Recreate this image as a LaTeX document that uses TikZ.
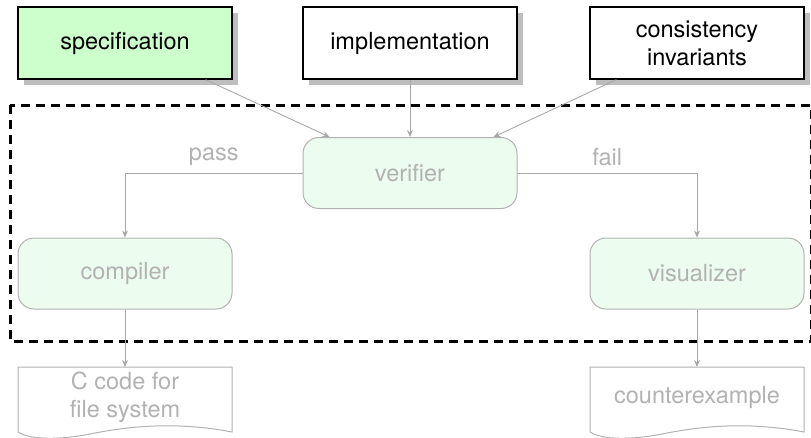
\documentclass[tikz,border=0pt]{standalone}
\usepackage{fontspec}
\setmainfont{TeX Gyre Heros}
\usetikzlibrary{arrows.meta,shadows,calc}
\definecolor{specgreen}{RGB}{204,255,204}
\definecolor{palegreen}{RGB}{236,252,238}
\definecolor{lightgr}{RGB}{178,178,178}
\definecolor{edgegr}{RGB}{168,168,168}
\definecolor{shadowgr}{RGB}{190,190,190}
\tikzset{
  txt/.style={font=\fontsize{23.5}{29}\selectfont},
  topbox/.style={txt, draw=black, line width=1.3pt, fill=white, minimum width=214pt, minimum height=72pt, align=center, inner sep=0pt,
    drop shadow={shadow xshift=6pt, shadow yshift=-6pt, fill=shadowgr, opacity=1}},
  procbox/.style={txt, draw=lightgr, line width=1pt, fill=palegreen, text=lightgr, rounded corners=16pt, minimum width=214pt, minimum height=71pt, inner sep=0pt},
  doctext/.style={txt, text=lightgr, align=center, inner sep=0pt},
  edge/.style={draw=edgegr, line width=0.9pt, -{Stealth[length=7pt,width=6pt]}},
  lbl/.style={txt, text=lightgr, inner sep=0pt},
  docline/.style={draw=lightgr, line width=1pt, fill=white},
}
\begin{document}
\begin{tikzpicture}[x=1pt,y=-1pt]
\useasboundingbox (0,0) rectangle (811,437);
\clip (0,0) rectangle (811,437);
% dashed region
\draw[black, line width=3pt, dash pattern=on 9pt off 6pt] (10,105) rectangle (811.5,341);
% top inputs
\node[topbox, fill=specgreen] (spec) at (125,43) {specification};
\node[topbox] (impl) at (410,43) {implementation};
\node[topbox] (cons) at (697,43) {consistency\\[-1pt]invariants};
% processes
\node[procbox] (ver) at (410,173) {verifier};
\node[procbox] (comp) at (125,273.5) {compiler};
\node[procbox] (vis) at (697,273.5) {visualizer};
% documents
\draw[docline] (18,367) coordinate (cA) -- (232,367) -- (232,432)
   .. controls (170,420) and (120,428) .. (90,434)
   .. controls (60,440) and (30,440) .. (18,432) -- cycle;
\draw[docline] (590,367) coordinate (vA) -- (804,367) -- (804,432)
   .. controls (742,420) and (692,428) .. (662,434)
   .. controls (632,440) and (602,440) .. (590,432) -- cycle;
\coordinate (cdoc) at (125,367);
\coordinate (vdoc) at (697,367);
\node[doctext] (ctext) at (125,397) {C code for\\[-1pt]file system};
\node[doctext] (vtext) at (697,397) {counterexample};
% edges
\draw[edge] ([xshift=-27pt]spec.south east) -- ([xshift=27pt]ver.north west);
\draw[edge] (impl.south) -- (ver.north);
\draw[edge] ([xshift=27pt]cons.south west) -- ([xshift=-24pt]ver.north east);
\draw[edge] (ver.west) -| node[lbl, pos=0.25, above=7pt] (pass) {pass} (comp.north);
\draw[edge] (ver.east) -| node[lbl, pos=0.25, above=7pt] (fail) {fail} (vis.north);
\draw[edge] (comp.south) -- (cdoc);
\draw[edge] (vis.south) -- (vdoc);
\end{tikzpicture}
\end{document}
